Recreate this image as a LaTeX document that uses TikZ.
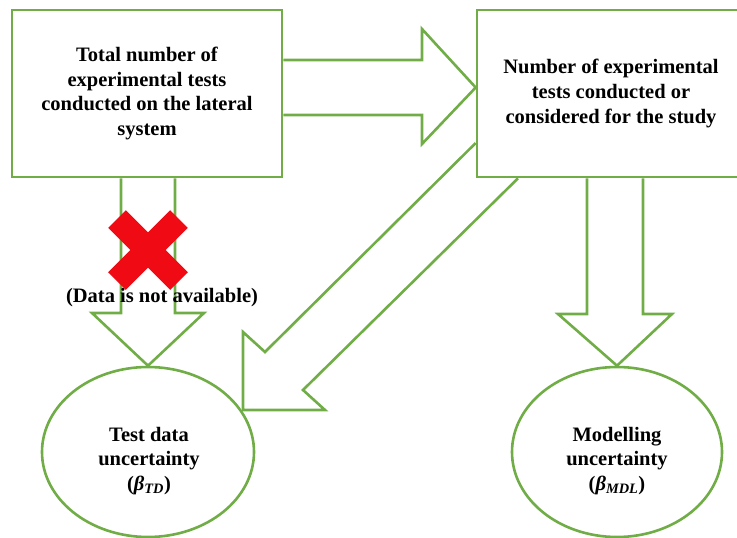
\documentclass[tikz,border=0pt]{standalone}
\usepackage{fontspec}
\setmainfont{Liberation Serif}
\usepackage{xcolor}
\usepackage{tikz}
\usetikzlibrary{shapes.geometric, positioning, calc}
\definecolor{leafgreen}{RGB}{112,173,71}
\definecolor{crossred}{RGB}{240,10,20}
\tikzstyle{blockarrow} = [draw=leafgreen, line width=2.6pt, line join=miter]
\tikzstyle{procbox} = [rectangle, draw=leafgreen, line width=2.6pt, align=center, font=\bfseries\fontsize{20.5}{24.7}\selectfont]
\tikzstyle{uncnode} = [ellipse, draw=leafgreen, line width=2.6pt]
\tikzstyle{unctext} = [align=center, font=\bfseries\fontsize{20.5}{24.7}\selectfont]
\begin{document}
\begin{tikzpicture}[x=1pt, y={(0pt,-1pt)}]
\useasboundingbox (0,0) rectangle (737,538);

% Test sets
\node (total) [procbox, minimum width=270pt, minimum height=167pt] at (147,93.5) {Total number of\\experimental tests\\conducted on the lateral\\system};
\node (considered) [procbox, minimum width=268pt, minimum height=167pt] at (611,93.5) {Number of experimental\\tests conducted or\\considered for the study};

% Uncertainties
\node (testunc) [uncnode, minimum width=212pt, minimum height=170pt] at (148,452) {};
\node (testtext) [unctext] at (149,461) {Test data\\uncertainty\\({\itshape β\textsubscript{TD}})};
\node (modunc) [uncnode, minimum width=210pt, minimum height=170pt] at (617,452) {};
\node (modtext) [unctext] at (617,461) {Modelling\\uncertainty\\({\itshape β\textsubscript{MDL}})};

% Block arrows
\draw [blockarrow] (total.east |- 0,60) -- (422,60) -- (422,29) -- ($(considered.west)+(0,-6)$) -- (422,144) -- (422,115) -- (total.east |- 0,115);
\draw [blockarrow] (total.south -| 121,0) -- (121,313) -- (92,313) -- (testunc.north) -- (204,313) -- (175,313) -- (total.south -| 175,0);
\draw [blockarrow] (considered.south -| 587,0) -- (587,314) -- (558,314) -- (modunc.north) -- (672,314) -- (643,314) -- (considered.south -| 643,0);
\draw [blockarrow] (considered.west |- 0,143) -- (265,352) -- (243,332) -- (243,410) -- (325,410) -- (303,390) -- (considered.south -| 518,0);

% Missing data
\draw [crossred, line width=25pt] (117,219) -- (179,281);
\draw [crossred, line width=25pt] (117,281) -- (179,219);
\node (nodata) [font=\bfseries\fontsize{20.5}{24.7}\selectfont] at (162,298) {(Data is not available)};

\end{tikzpicture}
\end{document}
